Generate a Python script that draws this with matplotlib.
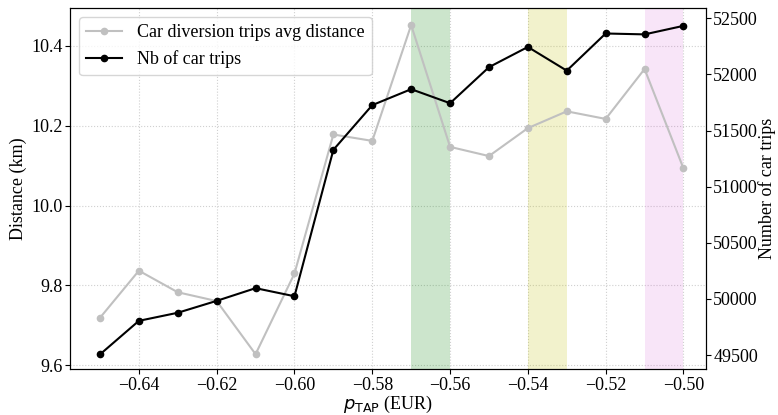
import matplotlib
matplotlib.use("Agg")
import matplotlib.pyplot as plt

plt.rcParams['font.family'] = ['Liberation Serif', 'DejaVu Serif']
plt.rcParams['mathtext.fontset'] = 'dejavusans'
plt.rcParams['font.size'] = 13

price = [-0.65, -0.64, -0.63, -0.62, -0.61, -0.60, -0.59, -0.58,
         -0.57, -0.56, -0.55, -0.54, -0.53, -0.52, -0.51, -0.50]
avg_distance = [9.719, 9.837, 9.783, 9.761, 9.628, 9.830, 10.178, 10.162,
                10.452, 10.147, 10.124, 10.194, 10.236, 10.217, 10.342, 10.093]
nb_car_trips = [49506, 49805, 49877, 49983, 50096, 50024, 51328, 51726,
                51868, 51743, 52064, 52244, 52033, 52364, 52356, 52432]
spans = [(-0.57, -0.56, 'g', 0.2), (-0.54, -0.53, 'y', 0.2), (-0.51, -0.50, 'm', 0.1)]

fig = plt.figure(figsize=(7.78, 4.15), dpi=100)
ax = fig.add_axes([0.09, 0.11, 0.818, 0.871])
ax2 = ax.twinx()

for x0, x1, c, a in spans:
    ax.axvspan(x0, x1, color=c, alpha=a, lw=0)

l1, = ax.plot(price, avg_distance, '-o', color='#c0c0c0', ms=4.5, lw=1.5,
              label='Car diversion trips avg distance')
l2, = ax2.plot(price, nb_car_trips, '-o', color='black', ms=4.5, lw=1.5,
               label='Nb of car trips')

ax.grid(True, ls=':', color='#d0d0d0', lw=0.8)
ax.set_axisbelow(True)
ax.set_ylim(9.59, 10.495)
ax2.set_ylim(49373, 52592)
ax.set_yticks([9.6, 9.8, 10.0, 10.2, 10.4])
ax2.set_yticks([49500, 50000, 50500, 51000, 51500, 52000, 52500])
ax.set_xticks([-0.64, -0.62, -0.60, -0.58, -0.56, -0.54, -0.52, -0.50])
ax.set_xlim(-0.6577, -0.4941)

ax.tick_params(axis='x', pad=2)
ax.tick_params(axis='y', pad=2)
ax2.tick_params(axis='y', pad=1.5)

ax.set_xlabel(r'$p_{\mathrm{TAP}}$ (EUR)', labelpad=0)
ax.set_ylabel('Distance (km)', labelpad=3)
ax2.set_ylabel('Number of car trips', labelpad=0)

ax.legend(handles=[l1, l2], loc='upper left', fontsize=13, framealpha=0.8)

fig.savefig('out.png', dpi=100)
